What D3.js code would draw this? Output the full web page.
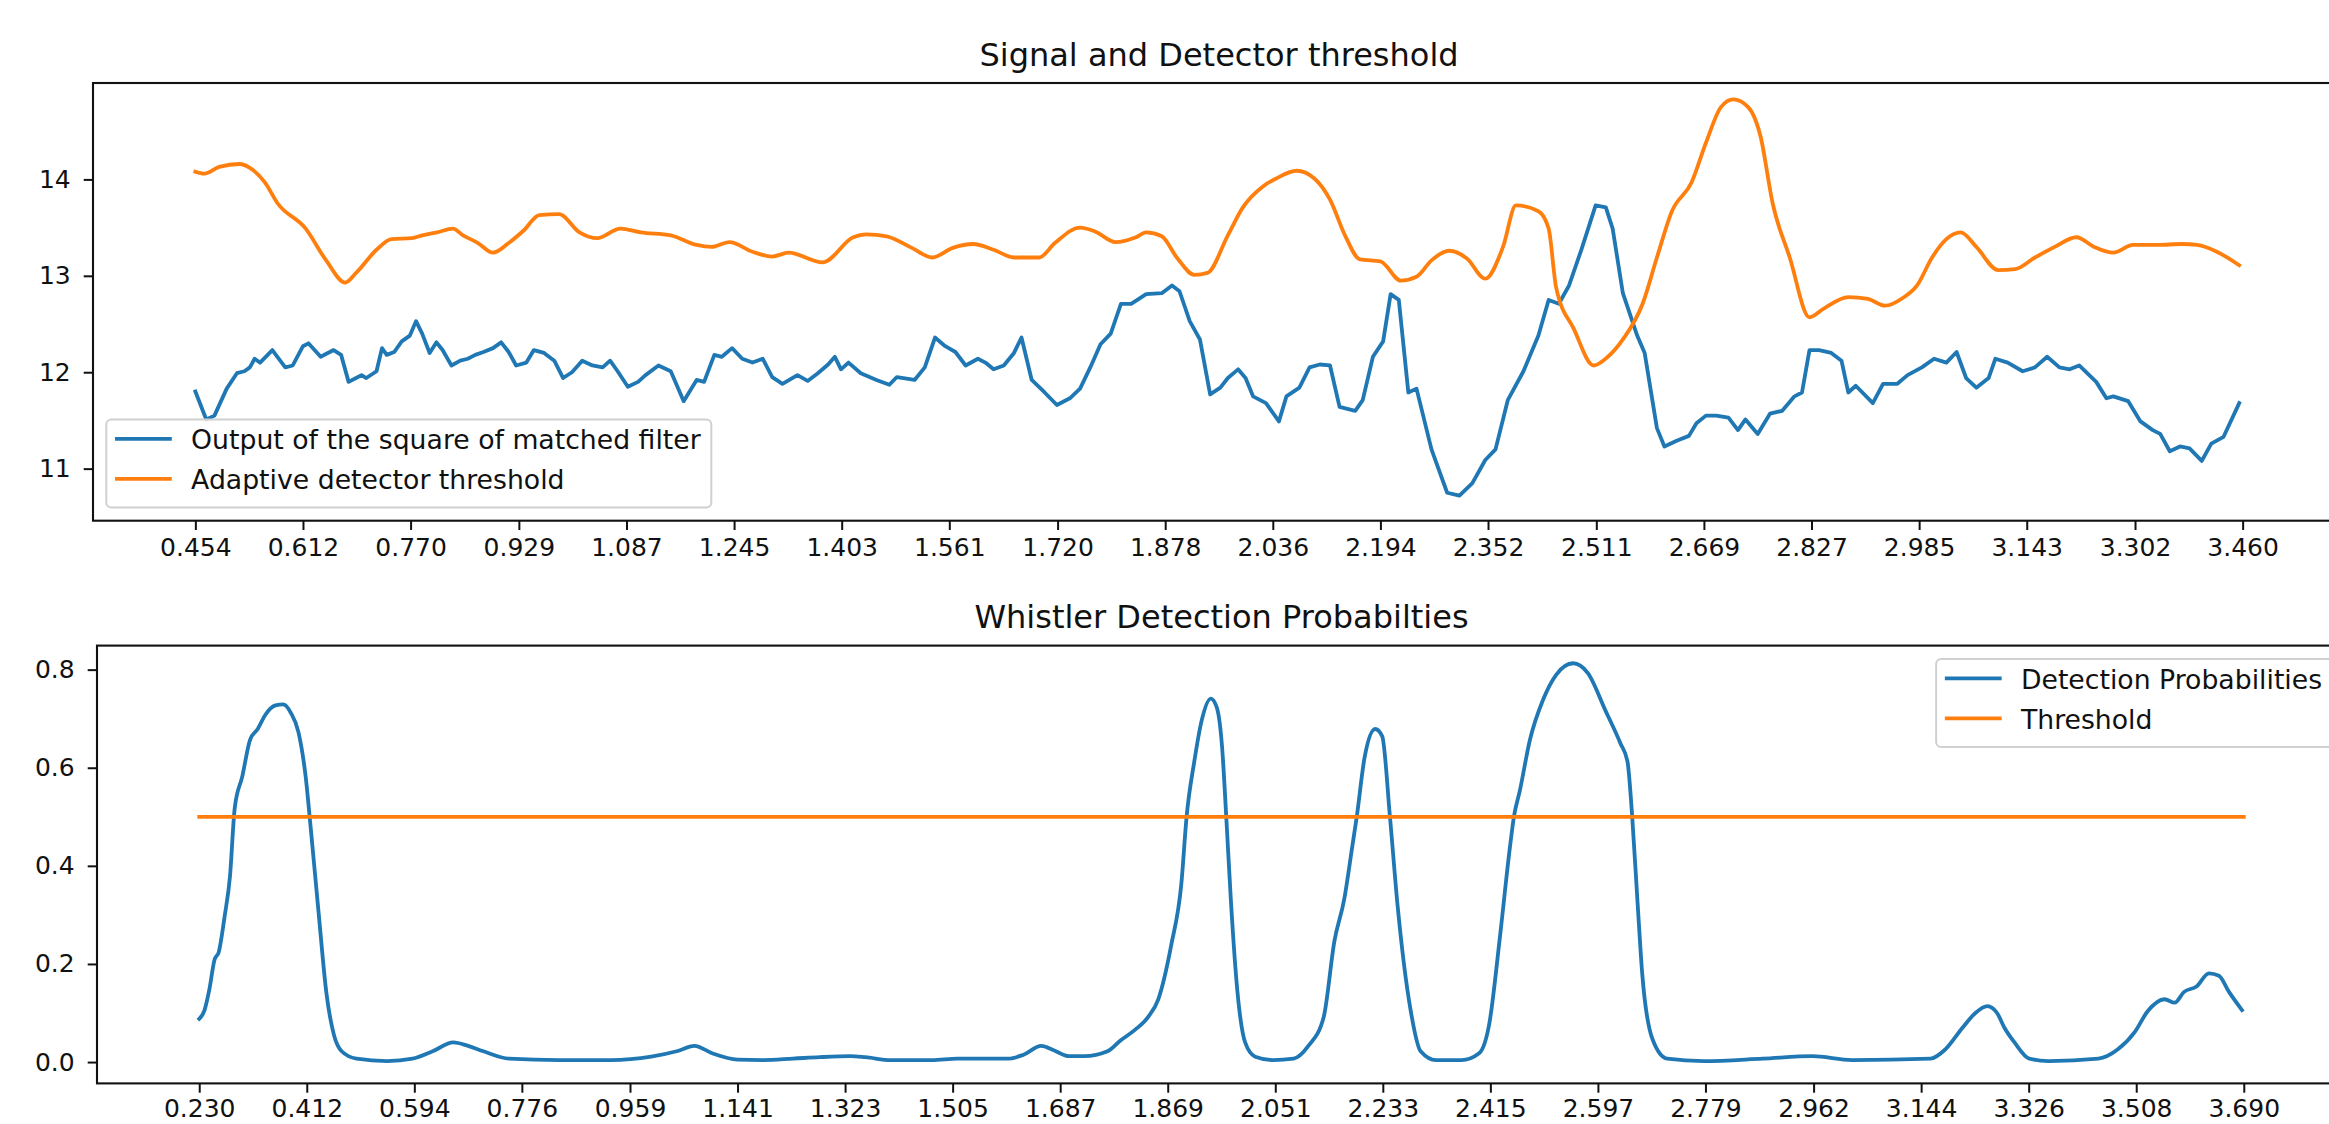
<!DOCTYPE html>
<html>
<head>
<meta charset="utf-8">
<script src="https://cdn.jsdelivr.net/npm/d3@7"></script>
<style>
  body { margin: 0; background: #fff; }
  svg text { font-family: "DejaVu Sans", sans-serif; fill: #111; }
</style>
</head>
<body>
<div id="chart"></div>
<script>
// ---- data ----

// top panel: output of the square of matched filter (blue)
const sigT = [0.454,0.459,0.470,0.482,0.500,0.515,0.526,0.534,0.541,0.549,0.567,0.586,0.597,0.612,0.620,0.638,0.657,0.668,0.679,0.690,
  0.698,0.705,0.720,0.728,0.735,0.746,0.757,0.769,0.778,0.787,0.798,0.808,0.817,0.830,0.843,0.854,0.865,0.877,0.891,0.903,
  0.914,0.925,0.940,0.951,0.966,0.981,0.994,1.007,1.022,1.037,1.052,1.063,1.074,1.089,1.104,1.115,1.134,1.152,1.171,1.190,
  1.201,1.216,1.227,1.242,1.257,1.272,1.287,1.301,1.316,1.338,1.353,1.368,1.383,1.393,1.402,1.413,1.431,1.454,1.473,1.484,
  1.510,1.525,1.540,1.555,1.570,1.585,1.603,1.614,1.626,1.641,1.656,1.667,1.682,1.701,1.719,1.738,1.753,1.768,1.783,1.798,
  1.813,1.828,1.850,1.873,1.888,1.899,1.914,1.929,1.944,1.959,1.970,1.985,1.996,2.007,2.026,2.045,2.056,2.075,2.090,2.105,
  2.120,2.134,2.157,2.168,2.183,2.198,2.209,2.221,2.235,2.247,2.269,2.292,2.310,2.329,2.348,2.363,2.381,2.404,2.426,2.441,
  2.456,2.471,2.489,2.510,2.525,2.535,2.550,2.571,2.582,2.600,2.611,2.629,2.647,2.658,2.672,2.687,2.705,2.719,2.730,2.748,
  2.766,2.784,2.802,2.813,2.824,2.838,2.856,2.871,2.881,2.892,2.917,2.932,2.953,2.968,2.989,3.007,3.025,3.040,3.054,3.069,
  3.087,3.097,3.115,3.137,3.155,3.173,3.191,3.206,3.220,3.245,3.260,3.270,3.292,3.310,3.328,3.339,3.353,3.368,3.382,3.400,
  3.414,3.432,3.455];
const sigV = [11.80,11.71,11.51,11.55,11.83,11.99,12.01,12.05,12.14,12.10,12.23,12.05,12.07,12.27,12.30,12.16,12.23,12.18,11.90,11.94,
  11.97,11.94,12.01,12.25,12.18,12.21,12.32,12.38,12.53,12.40,12.20,12.31,12.23,12.07,12.12,12.14,12.18,12.21,12.25,12.31,
  12.21,12.07,12.10,12.23,12.20,12.12,11.94,12.00,12.12,12.07,12.05,12.12,12.01,11.85,11.90,11.97,12.07,12.01,11.70,11.92,
  11.90,12.18,12.16,12.25,12.14,12.10,12.14,11.95,11.88,11.97,11.91,11.99,12.08,12.16,12.03,12.10,11.99,11.92,11.87,11.95,
  11.92,12.05,12.36,12.27,12.21,12.07,12.14,12.10,12.03,12.07,12.20,12.36,11.92,11.79,11.66,11.73,11.83,12.05,12.29,12.40,
  12.71,12.71,12.81,12.82,12.90,12.84,12.53,12.34,11.77,11.84,11.94,12.03,11.94,11.75,11.68,11.49,11.75,11.84,12.05,12.08,
  12.07,11.64,11.60,11.71,12.16,12.32,12.81,12.75,11.79,11.83,11.20,10.75,10.72,10.85,11.09,11.20,11.71,12.01,12.38,12.75,
  12.71,12.90,13.27,13.73,13.71,13.49,12.82,12.38,12.20,11.42,11.23,11.29,11.34,11.47,11.55,11.55,11.53,11.40,11.51,11.36,
  11.57,11.60,11.75,11.79,12.23,12.23,12.20,12.12,11.79,11.86,11.68,11.88,11.88,11.97,12.05,12.14,12.10,12.21,11.94,11.84,
  11.94,12.14,12.10,12.01,12.05,12.16,12.05,12.03,12.07,11.90,11.73,11.75,11.70,11.49,11.40,11.36,11.18,11.23,11.21,11.08,
  11.26,11.33,11.68];

// top panel: adaptive detector threshold (orange)
const thrT = [0.454,0.467,0.489,0.519,0.534,0.556,0.575,0.616,0.646,0.674,0.690,0.720,0.742,0.772,0.787,0.809,0.832,0.847,0.869,0.891,
  0.914,0.936,0.959,0.988,1.018,1.044,1.078,1.108,1.152,1.190,1.212,1.238,1.272,1.301,1.325,1.375,1.420,1.439,1.469,1.506,
  1.536,1.566,1.596,1.626,1.656,1.693,1.716,1.753,1.775,1.805,1.835,1.850,1.873,1.895,1.921,1.940,1.970,1.992,2.022,2.041,
  2.071,2.097,2.120,2.142,2.164,2.194,2.224,2.247,2.269,2.295,2.321,2.348,2.374,2.393,2.426,2.441,2.452,2.478,2.507,2.528,
  2.550,2.579,2.600,2.622,2.651,2.672,2.694,2.712,2.734,2.752,2.770,2.795,2.824,2.845,2.881,2.910,2.935,2.961,2.982,3.004,
  3.025,3.046,3.069,3.101,3.126,3.155,3.184,3.216,3.242,3.270,3.299,3.335,3.371,3.393,3.422,3.455];
const thrV = [14.08,14.06,14.13,14.16,14.12,13.97,13.75,13.49,13.16,12.93,13.03,13.27,13.38,13.39,13.42,13.45,13.49,13.42,13.34,13.24,
  13.34,13.47,13.63,13.64,13.45,13.39,13.49,13.45,13.42,13.32,13.30,13.35,13.25,13.20,13.24,13.14,13.40,13.43,13.41,13.29,
  13.19,13.29,13.33,13.27,13.19,13.19,13.34,13.50,13.46,13.35,13.40,13.45,13.41,13.19,13.01,13.03,13.42,13.71,13.93,14.01,
  14.09,14.01,13.79,13.42,13.17,13.15,12.95,12.99,13.16,13.26,13.18,12.97,13.30,13.73,13.67,13.49,12.88,12.45,12.07,12.16,
  12.34,12.71,13.19,13.67,13.97,14.38,14.75,14.83,14.75,14.45,13.75,13.19,12.57,12.66,12.78,12.76,12.69,12.77,12.90,13.19,
  13.38,13.45,13.30,13.06,13.07,13.19,13.30,13.40,13.30,13.24,13.32,13.32,13.33,13.32,13.25,13.11];

// bottom panel: detection probabilities (blue)
const probT = [0.230,0.239,0.247,0.256,0.263,0.273,0.282,0.290,0.303,0.316,0.329,0.342,0.359,0.372,0.385,0.398,0.410,0.419,0.432,0.445,
  0.458,0.471,0.496,0.548,0.591,0.625,0.660,0.685,0.711,0.754,0.840,0.926,0.995,1.038,1.068,1.098,1.141,1.184,1.235,1.280,
  1.332,1.357,1.401,1.470,1.513,1.599,1.625,1.655,1.676,1.702,1.728,1.767,1.789,1.814,1.836,1.853,1.875,1.892,1.901,1.914,
  1.926,1.942,1.952,1.961,1.968,1.976,1.987,2.000,2.017,2.047,2.082,2.107,2.133,2.151,2.168,2.181,2.189,2.202,2.220,2.232,
  2.245,2.258,2.280,2.297,2.323,2.366,2.396,2.413,2.431,2.448,2.455,2.465,2.482,2.504,2.526,2.555,2.580,2.610,2.635,2.647,
  2.655,2.664,2.672,2.689,2.714,2.776,2.876,2.960,3.027,3.160,3.185,3.214,3.235,3.256,3.273,3.285,3.302,3.327,3.360,3.444,
  3.477,3.506,3.527,3.556,3.573,3.589,3.610,3.631,3.648,3.665,3.687];
const probV = [0.088,0.106,0.147,0.209,0.224,0.297,0.378,0.517,0.583,0.657,0.679,0.708,0.727,0.729,0.712,0.672,0.583,0.473,0.305,0.143,
  0.055,0.022,0.007,0.002,0.007,0.022,0.040,0.033,0.022,0.007,0.004,0.004,0.011,0.022,0.033,0.018,0.005,0.004,0.007,0.010,
  0.012,0.010,0.004,0.004,0.007,0.007,0.015,0.033,0.024,0.012,0.012,0.022,0.044,0.066,0.092,0.128,0.239,0.363,0.501,0.613,
  0.694,0.741,0.723,0.642,0.501,0.327,0.143,0.040,0.011,0.004,0.007,0.033,0.092,0.246,0.334,0.437,0.501,0.620,0.679,0.664,
  0.501,0.319,0.106,0.022,0.004,0.004,0.018,0.077,0.253,0.437,0.501,0.554,0.657,0.738,0.789,0.813,0.793,0.716,0.650,0.613,
  0.501,0.327,0.180,0.048,0.007,0.002,0.007,0.012,0.004,0.007,0.026,0.070,0.099,0.114,0.099,0.070,0.040,0.007,0.002,0.007,
  0.026,0.062,0.103,0.128,0.121,0.143,0.154,0.181,0.176,0.143,0.106];

// bottom panel: threshold (orange)
const limT = [0.230, 3.690];
const limV = [0.5, 0.5];

// tick labels
const topXTicks = [0.454,0.612,0.770,0.929,1.087,1.245,1.403,1.561,1.720,1.878,2.036,2.194,2.352,2.511,2.669,2.827,2.985,3.143,3.302,3.460];
const topYTicks = [11, 12, 13, 14];
const botXTicks = [0.230,0.412,0.594,0.776,0.959,1.141,1.323,1.505,1.687,1.869,2.051,2.233,2.415,2.597,2.779,2.962,3.144,3.326,3.508,3.690];
const botYTicks = [0.0, 0.2, 0.4, 0.6, 0.8];

const blue = "#1f77b4", orange = "#ff7f0e";

// ---- drawing ----
const W = 2329, H = 1124;
const svg = d3.select("#chart").append("svg")
    .attr("width", W)
    .attr("height", H);

const zip = (xs, ys) => xs.map((x, i) => ({x: x, y: ys[i]}));

// matplotlib style 5% margin around the data span
function padded(lo, hi) {
  const p = (hi - lo) * 0.05;
  return [lo - p, hi + p];
}

function panel(opt) {
  const x = d3.scaleLinear().domain(padded(opt.xTicks[0], opt.xTicks[opt.xTicks.length - 1]))
      .range([opt.left, opt.right]);
  const y = d3.scaleLinear().domain(opt.yDomain).range([opt.bottom, opt.top]);

  const g = svg.append("g");

  const clipId = "clip" + opt.id;
  g.append("clipPath").attr("id", clipId)
    .append("rect")
      .attr("x", opt.left).attr("y", opt.top)
      .attr("width", opt.right - opt.left).attr("height", opt.bottom - opt.top);

  const plot = g.append("g").attr("clip-path", "url(#" + clipId + ")");
  opt.series.forEach(s => {
    const line = d3.line()
        .x(d => x(d.x))
        .y(d => y(d.y))
        .curve(s.smooth ? d3.curveMonotoneX : d3.curveLinear);
    plot.append("path")
        .datum(s.data)
        .attr("fill", "none")
        .attr("stroke", s.color)
        .attr("stroke-width", 3.8)
        .attr("stroke-linejoin", "round")
        .attr("stroke-linecap", "square")
        .attr("d", line);
  });

  // x axis
  const xa = g.append("g")
      .attr("transform", "translate(0," + opt.bottom + ")")
      .call(d3.axisBottom(x).tickValues(opt.xTicks).tickFormat(d3.format(".3f"))
        .tickSize(9.3).tickPadding(opt.xPad).tickSizeOuter(0));
  // y axis
  const ya = g.append("g")
      .attr("transform", "translate(" + opt.left + ",0)")
      .call(d3.axisLeft(y).tickValues(opt.yTicks).tickFormat(opt.yFormat)
        .tickSize(9.3).tickPadding(13).tickSizeOuter(0));
  [xa, ya].forEach(a => {
    a.select(".domain").remove();
    a.selectAll(".tick line").attr("stroke", "#111").attr("stroke-width", 2);
    a.selectAll(".tick text")
      .style("font-family", '"DejaVu Sans", sans-serif')
      .style("font-size", "25px")
      .attr("fill", "#111");
  });

  // frame
  g.append("rect")
      .attr("x", opt.left).attr("y", opt.top)
      .attr("width", opt.right - opt.left).attr("height", opt.bottom - opt.top)
      .attr("fill", "none").attr("stroke", "#111").attr("stroke-width", 2.1);

  // title
  g.append("text")
      .attr("x", (opt.left + opt.right) / 2)
      .attr("y", opt.top - 17.5)
      .attr("text-anchor", "middle")
      .style("font-size", "32px")
      .text(opt.title);

  // legend
  const fs = 26.7;
  const lg = g.append("g");
  const box = lg.append("rect")
      .attr("rx", 5).attr("ry", 5)
      .attr("fill", "#fff").attr("fill-opacity", 0.8)
      .attr("stroke", "#d0d0d0").attr("stroke-width", 2);
  let maxW = 0;
  opt.series.forEach((s, i) => {
    const cy = 19.5 + i * 40;
    lg.append("line")
        .attr("x1", 10.6).attr("x2", 63.6)
        .attr("y1", cy).attr("y2", cy)
        .attr("stroke", s.color).attr("stroke-width", 3.8)
        .attr("stroke-linecap", "square");
    const t = lg.append("text")
        .attr("x", 84.8).attr("y", cy + 10.3)
        .style("font-size", fs + "px")
        .text(s.label);
    maxW = Math.max(maxW, t.node().getComputedTextLength());
  });
  const bw = 84.8 + maxW + 10.6, bh = 88;
  box.attr("width", bw).attr("height", bh);
  const pad = 13.3;
  let lx, ly;
  if (opt.legend === "lower left") {
    lx = opt.left + pad; ly = opt.bottom - pad - bh;
  } else {
    lx = opt.right - pad - bw; ly = opt.top + pad;
  }
  lg.attr("transform", "translate(" + lx + "," + ly + ")");
}

panel({
  id: "top",
  left: 93, right: 2345, top: 83, bottom: 520.7,
  xTicks: topXTicks, xPad: 8.5,
  yTicks: topYTicks,
  yDomain: [10.46, 15.0],
  yFormat: d3.format("d"),
  title: "Signal and Detector threshold",
  legend: "lower left",
  series: [
    {label: "Output of the square of matched filter", color: blue, data: zip(sigT, sigV), smooth: false},
    {label: "Adaptive detector threshold", color: orange, data: zip(thrT, thrV), smooth: true}
  ]
});

panel({
  id: "bot",
  left: 97, right: 2346, top: 645.6, bottom: 1083.4,
  xTicks: botXTicks, xPad: 7,
  yTicks: botYTicks,
  yDomain: [-0.0435, 0.849],
  yFormat: d3.format(".1f"),
  title: "Whistler Detection Probabilties",
  legend: "upper right",
  series: [
    {label: "Detection Probabilities", color: blue, data: zip(probT, probV), smooth: true},
    {label: "Threshold", color: orange, data: zip(limT, limV), smooth: false}
  ]
});
</script>
</body>
</html>
